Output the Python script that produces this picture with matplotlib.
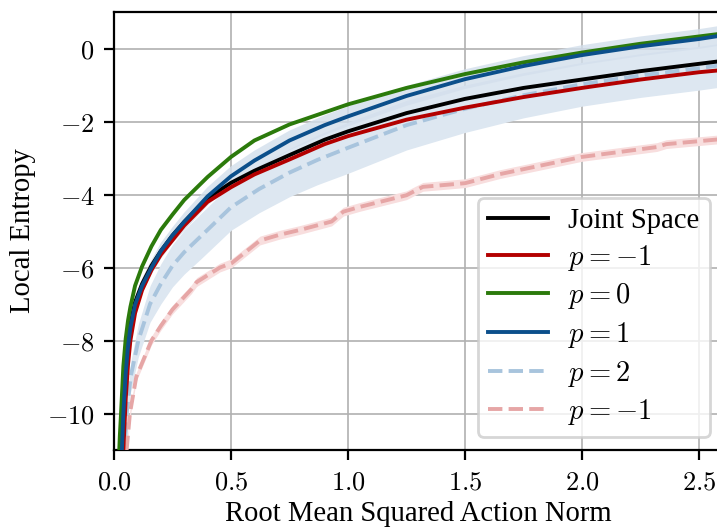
import matplotlib
matplotlib.use('Agg')
import matplotlib.pyplot as plt
from matplotlib.ticker import FuncFormatter

# Fontes: números e legendas matemáticas em Computer Modern
plt.rcParams['mathtext.fontset'] = 'cm'
fonte = 'Liberation Serif'

# Valores
x = [0.02, 0.025, 0.03, 0.04, 0.05, 0.06, 0.07, 0.09, 0.12, 0.16, 0.2, 0.25, 0.3, 0.4,
     0.5, 0.6, 0.75, 0.9, 1.0, 1.25, 1.5, 1.75, 2.0, 2.25, 2.5, 2.6]

joint = [-12.5, -11.6, -10.8, -9.4, -8.6, -8.0, -7.55, -6.95, -6.45, -5.95, -5.55, -5.12, -4.75,
         -4.1, -3.68, -3.35, -2.92, -2.5, -2.27, -1.77, -1.38, -1.08, -0.85, -0.62, -0.42, -0.34]
p_m1 = [-14.0, -13.0, -12.5, -11.0, -9.6, -8.65, -8.0, -7.25, -6.62, -6.07, -5.65, -5.25, -4.85,
        -4.2, -3.8, -3.45, -3.04, -2.62, -2.4, -1.95, -1.62, -1.33, -1.08, -0.85, -0.65, -0.59]
p_0 = [-11.4, -10.6, -10.0, -8.7, -7.95, -7.45, -7.08, -6.5, -5.97, -5.42, -4.97, -4.55, -4.15,
       -3.52, -2.97, -2.52, -2.08, -1.75, -1.53, -1.08, -0.7, -0.38, -0.11, 0.13, 0.33, 0.41]
p_1 = [-14.0, -13.0, -11.6, -10.0, -8.9, -8.15, -7.65, -7.02, -6.5, -6.0, -5.55, -5.12, -4.75,
       -4.05, -3.5, -3.07, -2.52, -2.1, -1.86, -1.3, -0.84, -0.48, -0.18, 0.06, 0.26, 0.36]
p_1_std = [0.1, 0.1, 0.1, 0.12, 0.15, 0.15, 0.15, 0.18, 0.2, 0.2, 0.22, 0.22, 0.25, 0.25,
           0.27, 0.27, 0.27, 0.27, 0.27, 0.27, 0.27, 0.27, 0.27, 0.27, 0.27, 0.27]

x_p2 = [0.045, 0.054, 0.071, 0.104, 0.154, 0.2, 0.25, 0.3, 0.37, 0.5, 0.62, 0.75,
        0.87, 1.0, 1.25, 1.5, 1.75, 2.0, 2.25, 2.5, 2.6]
p_2 = [-11.2, -10.0, -9.0, -8.0, -7.0, -6.45, -5.95, -5.58, -5.15, -4.35, -3.85, -3.4,
       -3.05, -2.72, -2.1, -1.65, -1.28, -0.98, -0.74, -0.54, -0.45]
p_2_std = [0.3, 0.35, 0.4, 0.45, 0.5, 0.55, 0.58, 0.6, 0.62, 0.63, 0.65, 0.66,
           0.68, 0.7, 0.68, 0.65, 0.62, 0.6, 0.6, 0.6, 0.6]

x_dm1 = [0.054, 0.068, 0.095, 0.16, 0.2, 0.25, 0.33, 0.353, 0.453, 0.503, 0.624, 0.709,
         0.795, 0.93, 0.98, 1.05, 1.25, 1.32, 1.5, 1.65, 2.0, 2.32, 2.36, 2.6]
p_dm1 = [-11.0, -10.0, -9.0, -8.0, -7.6, -7.15, -6.6, -6.4, -6.0, -5.88, -5.26, -5.1,
         -4.97, -4.74, -4.47, -4.34, -4.02, -3.79, -3.69, -3.44, -2.97, -2.7, -2.62, -2.48]
p_dm1_std = 0.12

fig = plt.figure(figsize=(3.585, 2.645), dpi=200)
ax = fig.add_axes([0.159, 0.1493, 0.8485, 0.828])

# Faixas de desvio
ax.fill_between(x_p2, [a - s for a, s in zip(p_2, p_2_std)],
                [a + s for a, s in zip(p_2, p_2_std)], color='#dde7f1', lw=0)
ax.fill_between(x, [a - s for a, s in zip(p_1, p_1_std)],
                [a + s for a, s in zip(p_1, p_1_std)], color='#d3dfec', lw=0, alpha=0.8)
ax.fill_between(x_dm1, [a - p_dm1_std for a in p_dm1],
                [a + p_dm1_std for a in p_dm1], color='#f8dede', lw=0)

ax.plot(x_p2, p_2, '--', color='#a8c4dd', lw=1.4, label=r'$p=2$', zorder=3)
ax.plot(x_dm1, p_dm1, '--', color='#e6a6a6', lw=1.4, label=r'$p=-1$', zorder=3)

ax.plot(x, joint, color='black', lw=1.4, label='Joint Space', zorder=4)
ax.plot(x, p_m1, color='#b30000', lw=1.4, label=r'$p=-1$', zorder=4)
ax.plot(x, p_0, color='#2b7a0b', lw=1.4, label=r'$p=0$', zorder=4)
ax.plot(x, p_1, color='#0b4f8b', lw=1.4, label=r'$p=1$', zorder=4)

ax.set_xlim(0, 2.6)
ax.set_ylim(-11, 1)
ax.set_xticks([0.0, 0.5, 1.0, 1.5, 2.0, 2.5])
ax.set_yticks([-10, -8, -6, -4, -2, 0])
ax.xaxis.set_major_formatter(FuncFormatter(lambda v, _: f'${v:.1f}$'))
ax.yaxis.set_major_formatter(FuncFormatter(lambda v, _: f'${v:.0f}$'))
ax.tick_params(labelsize=9.5, length=3.5, width=0.8)
ax.grid(True, color='#b0b0b0', lw=0.6)
ax.set_axisbelow(True)
for s in ax.spines.values():
    s.set_linewidth(0.8)

ax.set_xlabel('Root Mean Squared Action Norm', fontfamily=fonte, fontsize=10.3, labelpad=2)
ax.set_ylabel('Local Entropy', fontfamily=fonte, fontsize=10.3)

# Ordem da legenda
h, l = ax.get_legend_handles_labels()
ordem = [2, 3, 4, 5, 0, 1]
leg = ax.legend([h[i] for i in ordem], [l[i] for i in ordem], loc='lower right',
                fontsize=10.3, handlelength=2.1, handletextpad=0.7, labelspacing=0.3,
                borderpad=0.35, borderaxespad=0.45)
for t in leg.get_texts():
    t.set_fontfamily(fonte)

fig.savefig('out.png', dpi=200)
